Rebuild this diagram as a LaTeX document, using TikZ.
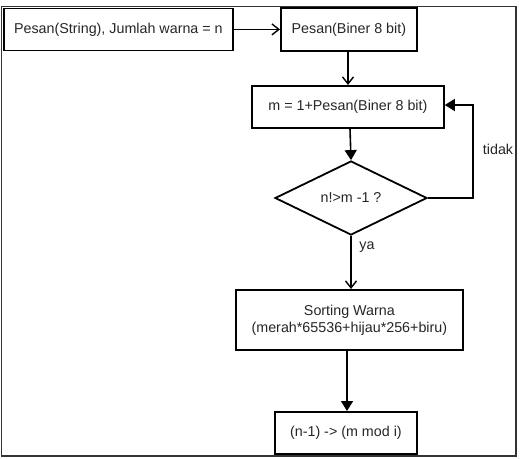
\documentclass[tikz,border=0pt]{standalone}
\usepackage{fontspec}
\setmainfont{Liberation Sans}
\usetikzlibrary{arrows.meta,shapes.geometric}
\begin{document}
\begin{tikzpicture}[x=1pt,y=-1pt,
  txt/.style={font=\fontsize{14.3}{17}\selectfont,text=black!85},
  box/.style={draw=black,line width=1.8pt,minimum height=42pt,txt,align=center,inner sep=0pt},
  dec/.style={draw=black,line width=1.8pt,diamond,minimum width=152pt,minimum height=74pt,aspect=2.05,inner sep=0pt,txt},
  openarr/.style={line width=1.6pt,-{Straight Barb[length=7pt,width=11pt,line width=1.4pt]}},
  fillarr/.style={line width=1.6pt,-{Triangle[length=10pt,width=12pt]}},
  lbl/.style={txt,inner sep=0pt}]
\useasboundingbox (0,0) rectangle (521,458);
\fill[white] (0,0) rectangle (521,458);
\draw[black!80,line width=1.5pt] (1.5,6.5) rectangle (516,456);
\node[box,minimum width=229pt,anchor=north west] (a) at (3,7.5) {Pesan(String), Jumlah warna = n};
\node[box,minimum width=136pt,minimum height=43pt,anchor=north west] (b) at (280,7) {Pesan(Biner 8 bit)};
\node[box,minimum width=192pt,anchor=north west] (c) at (251,85) {m = 1+Pesan(Biner 8 bit)};
\node[dec] (d) at (351,198) {n!>m -1 ?};
\node[box,minimum width=227pt,minimum height=60pt,anchor=north west] (e) at (235,289) {Sorting Warna\\(merah*65536+hijau*256+biru)};
\node[box,minimum width=142pt,anchor=north west] (f) at (274,411) {(n-1) -> (m mod i)};
\coordinate (r1) at (473,198);
\coordinate (r2) at (473,105);
\draw[openarr] (a.east) -- (b.west);
\draw[openarr] (b.south -| 348,0) -- (c.north -| 348,0);
\draw[fillarr] (c.south -| 350,0) -- (d.north);
\draw[fillarr] (d.east) -- (r1) -- (r2) -- (c.east |- r2);
\draw[openarr] (d.south) -- (e.north -| d.south);
\draw[fillarr] (e.south -| 347,0) -- (f.north -| 347,0);
\node[lbl] (t) at (498,149) {tidak};
\node[lbl] (y) at (367,247) {ya};
\end{tikzpicture}
\end{document}
